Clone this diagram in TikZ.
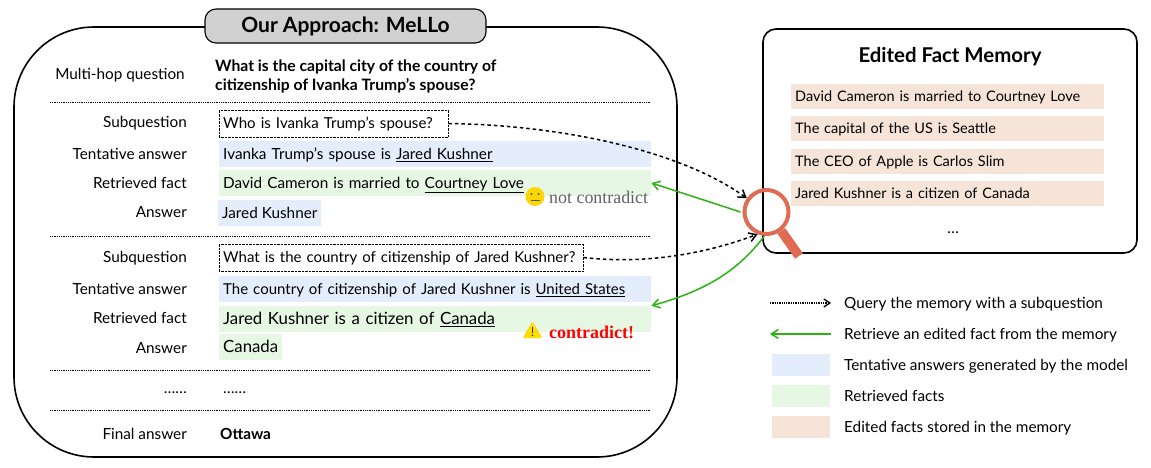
\documentclass[tikz,border=0pt]{standalone}
\usepackage{fontspec}
\usetikzlibrary{arrows.meta}
\setmainfont{Lato}
\newfontfamily\notefont{Liberation Serif}
\definecolor{tentblue}{HTML}{E3EDFB}
\definecolor{factgreen}{HTML}{E6F8E3}
\definecolor{memorange}{HTML}{F6E4D9}
\definecolor{retrgreen}{HTML}{2DB014}
\definecolor{lensred}{HTML}{DF6C52}
\tikzset{
  txt/.style={font=\fontsize{15.3}{17}\selectfont,text=black,inner sep=0pt},
  rowlabel/.style={txt,anchor=east,text height=11.5pt,text depth=1pt},
  rowtext/.style={txt,anchor=west,text height=11.5pt,text depth=1pt},
  subbox/.style={rowtext,draw,densely dotted,inner xsep=4pt,minimum height=27pt},
  tentbox/.style={rowtext,fill=tentblue,inner xsep=4pt,minimum height=26pt},
  factbox/.style={rowtext,fill=factgreen,inner xsep=4pt,minimum height=26pt},
  membox/.style={rowtext,fill=memorange,inner xsep=4pt,minimum height=25pt,text width=305pt,font=\fontsize{14.5}{17}\selectfont},
  swatch/.style={minimum width=58pt,minimum height=22pt,inner sep=0pt},
  sepline/.style={densely dotted,line width=0.8pt},
  queryarrow/.style={-{Straight Barb[length=7pt,width=9pt]},dash pattern=on 3.5pt off 3pt,line width=1.5pt},
  retrarrow/.style={-{Straight Barb[length=7pt,width=9pt]},retrgreen,line width=1.5pt},
}
\begin{document}
\begin{tikzpicture}[x=1pt,y=-1pt]
  \useasboundingbox (0,0) rectangle (1151,468);
  \node[draw,line width=1.6pt,rounded corners=80pt,minimum width=663pt,minimum height=430pt,inner sep=0pt] (approach) at (345.5,242) {};
  \node[draw,line width=1.1pt,fill=black!18,rounded corners=11pt,minimum width=281pt,minimum height=34pt,inner sep=0pt,font=\fontsize{21}{24}\selectfont\bfseries] (title) at (345.5,26) {Our Approach: MeLLo};
  \node[draw,line width=1.6pt,rounded corners=13pt,minimum width=374pt,minimum height=224pt,inner sep=0pt] (memory) at (950,141) {};
  \node[font=\fontsize{20.4}{24}\selectfont\bfseries,inner sep=0pt] (memtitle) at (950,57) {Edited Fact Memory};

  \node[txt] (mhlabel) at (120,75) {Multi-hop question};
  \node[txt,anchor=west,align=left,font=\fontsize{15.7}{19}\selectfont\bfseries] (mhtext) at (215,76) {What is the capital city of the country of\\citizenship of Ivanka Trump's spouse?};
  \draw[sepline] (50,102) -- (651,102);

  \node[rowlabel] (sublabela) at (187,122) {Subquestion};
  \node[subbox,text width=221pt,font=\fontsize{15.1}{17}\selectfont] (suba) at (219,123.5) {Who is Ivanka Trump's spouse?};
  \node[rowlabel] (tentlabela) at (187,154) {Tentative answer};
  \node[tentbox,text width=424pt] (tenta) at (219,154) {Ivanka Trump's spouse is \underline{Jared Kushner}};
  \node[rowlabel] (factlabela) at (187,183) {Retrieved fact};
  \node[factbox,text width=424pt] (facta) at (219,183) {David Cameron is married to \underline{Courtney Love}};
  \node[rowlabel] (anslabela) at (187,212) {Answer};
  \node[tentbox] (ansa) at (218,213) {Jared Kushner};
  \draw[sepline] (50,236) -- (651,236);

  \node[rowlabel] (sublabelb) at (187,257) {Subquestion};
  \node[subbox,text width=356pt,font=\fontsize{15}{17}\selectfont] (subb) at (219,257.5) {What is the country of citizenship of Jared Kushner?};
  \node[rowlabel] (tentlabelb) at (187,289) {Tentative answer};
  \node[tentbox,text width=424pt,font=\fontsize{15}{17}\selectfont] (tentb) at (219,289) {The country of citizenship of Jared Kushner is \underline{United States}};
  \node[rowlabel] (factlabelb) at (187,318) {Retrieved fact};
  \node[factbox,text width=424pt,font=\fontsize{16.8}{19}\selectfont] (factb) at (219,319) {Jared Kushner is a citizen of \underline{Canada}};
  \node[rowlabel] (anslabelb) at (187,348) {Answer};
  \node[factbox,font=\fontsize{16.8}{19}\selectfont] (ansb) at (219,347) {Canada};
  \draw[sepline] (50,370) -- (651,370);
  \node[rowlabel] (dotslabel) at (187,388) {\dots\dots};
  \node[rowtext] (dotstext) at (223,388) {\dots\dots};
  \draw[sepline] (50,410) -- (651,410);
  \node[rowlabel] (finallabel) at (187,434) {Final answer};
  \node[rowtext,font=\fontsize{15.3}{17}\selectfont\bfseries] (finaltext) at (220,434) {Ottawa};

  \node[txt,anchor=west,text=black!62,font=\fontsize{17.9}{20}\selectfont\notefont] (notcontra) at (549,197) {not contradict};
  \fill[yellow!75!orange] (535,196.5) circle (9.5pt);
  \fill[black!65] (531.5,194) circle (1.2pt) (538.5,194) circle (1.2pt);
  \draw[black!65,line width=0.8pt] (530.5,200.5) -- (539.5,200.5);
  \node[txt,anchor=west,text=red,font=\fontsize{18}{20}\selectfont\notefont\bfseries] (contra) at (549,332) {contradict!};
  \fill[yellow!80!orange,rounded corners=1.5pt] (532.5,321.5) -- (542.5,338) -- (522.5,338) -- cycle;
  \draw[black!80,line width=1.3pt] (532.5,326.5) -- (532.5,332.5);
  \fill[black!80] (532.5,335.3) circle (0.9pt);

  \node[membox] (mema) at (791,96.5) {David Cameron is married to Courtney Love};
  \node[membox] (memb) at (791,128.5) {The capital of the US is Seattle};
  \node[membox] (memc) at (791,161.5) {The CEO of Apple is Carlos Slim};
  \node[membox] (memd) at (791,193.5) {Jared Kushner is a citizen of Canada};
  \node[txt] (memdots) at (953,233) {\dots};

  \node[draw=lensred,circle,line width=4pt,minimum size=44pt,inner sep=0pt] (lens) at (766.5,212) {};
  \coordinate (handle) at (799,256);
  \draw[lensred,line width=9.5pt] (lens.-52) -- (handle);

  \draw[queryarrow] (suba.east) .. controls (560,125) and (680,150) .. (lens.145);
  \draw[queryarrow] (subb.east) .. controls (650,265) and (710,252) .. (lens.-112);
  \draw[retrarrow] (lens.west) ++(-2,0) -- (facta.east);
  \draw[retrarrow] (lens.-95) .. controls (735,275) and (700,292) .. (factb.north east);

  \coordinate (querya) at (770,303);
  \coordinate (queryb) at (831,303);
  \draw[-{Straight Barb[length=6pt,width=8pt]},densely dotted,line width=1.3pt] (querya) -- (queryb);
  \coordinate (retra) at (831,334);
  \coordinate (retrb) at (770,334);
  \draw[retrarrow] (retra) -- (retrb);
  \node[swatch,fill=tentblue] (swtent) at (801,365) {};
  \node[swatch,fill=factgreen] (swfact) at (801,396) {};
  \node[swatch,fill=memorange] (swmem) at (801,427) {};
  \node[rowtext] (legquery) at (844,303) {Query the memory with a subquestion};
  \node[rowtext] (legretr) at (844,334) {Retrieve an edited fact from the memory};
  \node[rowtext] (legtent) at (844,365) {Tentative answers generated by the model};
  \node[rowtext] (legfact) at (844,396) {Retrieved facts};
  \node[rowtext] (legmem) at (844,427) {Edited facts stored in the memory};
\end{tikzpicture}
\end{document}
